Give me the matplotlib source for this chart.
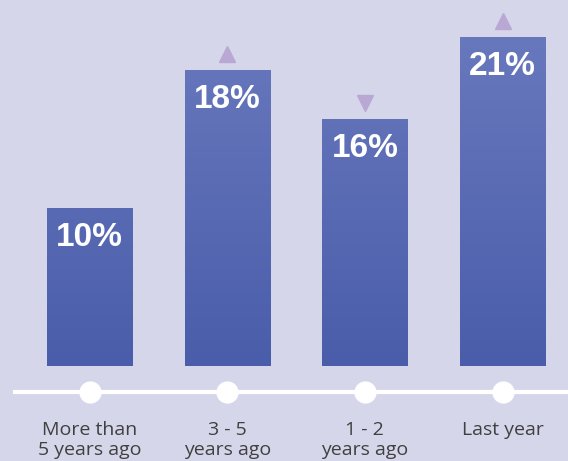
import numpy as np
import matplotlib
matplotlib.use("Agg")
import matplotlib.pyplot as plt
from matplotlib.colors import LinearSegmentedColormap
from matplotlib.transforms import ScaledTranslation

categories = ["More than\n5 years ago", "3 - 5\nyears ago", "1 - 2\nyears ago", "Last year"]
labels = ["10%", "18%", "16%", "21%"]
heights = [10.0, 18.7, 15.6, 20.8]   # bar heights
trend = [None, "^", "v", "^"]

bg = "#d6d6eb"
plt.rcParams["font.family"] = ["Open Sans", "DejaVu Sans"]

fig = plt.figure(figsize=(5.68, 4.61), dpi=100, facecolor=bg)
ax = fig.add_axes([0, 0, 1, 1])
ax.set_facecolor(bg)
ax.set_xlim(-0.65, 3.475)
ax.set_ylim(-6.01, 23.16)
ax.axis("off")

x = np.arange(len(categories))
bars = ax.bar(x, heights, width=0.62, color="none", edgecolor="none")

# vertical gradient fill, clipped to each bar
cmap = LinearSegmentedColormap.from_list("bars", ["#4a5daa", "#6b7bbf"])
grad = np.linspace(0, 1, 256).reshape(-1, 1)
for b in bars:
    x0, w = b.get_x(), b.get_width()
    im = ax.imshow(grad, cmap=cmap, origin="lower", aspect="auto",
                   extent=[x0, x0 + w, 0, 23.16], zorder=2)
    im.set_clip_path(b)

for i, (h, lab) in enumerate(zip(heights, labels)):
    ax.annotate(lab, (i, h), xytext=(0, -21), textcoords="offset points",
                ha="center", va="center", color="white", fontsize=24,
                fontweight="bold", family="Liberation Sans", zorder=3)
    if trend[i]:
        shift = ScaledTranslation(0, 12 / 72, fig.dpi_scale_trans)
        ax.plot([i], [h], marker=trend[i], markersize=12, color="#b9a8d3",
                linestyle="none", zorder=3, transform=ax.transData + shift)

# timeline with dots
line_y = -26 / 15.8
ax.plot([-0.555, 3.475], [line_y, line_y], color="white", lw=3, zorder=2,
        solid_capstyle="butt")
ax.plot(x, [line_y] * len(x), "o", color="white", markersize=15, zorder=3)

for i, cat in enumerate(categories):
    ax.text(i, -55 / 15.8, cat, ha="center", va="top", fontsize=14,
            color="#404040", linespacing=1.15)

fig.savefig("out.png", dpi=100, facecolor=bg)
